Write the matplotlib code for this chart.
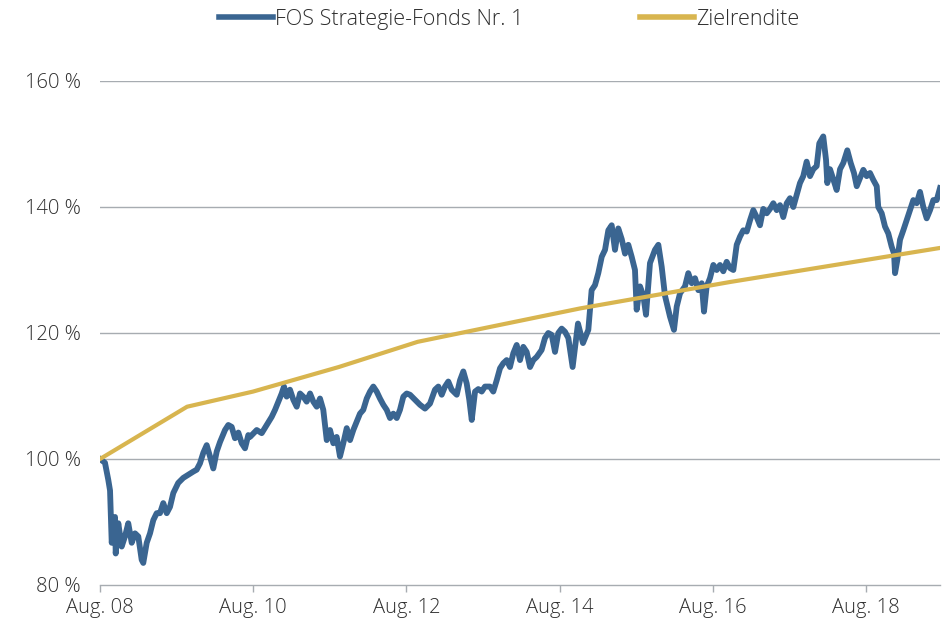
import matplotlib
matplotlib.use("Agg")
import matplotlib.pyplot as plt

# ---------------- data ----------------
fund_t = [2008.583, 2008.648, 2008.691, 2008.714, 2008.736, 2008.779, 2008.788, 2008.822, 2008.866, 2008.909,
          2008.952, 2008.997, 2009.040, 2009.083, 2009.127, 2009.148, 2009.193, 2009.236, 2009.279, 2009.323,
          2009.366, 2009.409, 2009.454, 2009.497, 2009.540, 2009.604, 2009.670, 2009.736, 2009.801, 2009.845,
          2009.888, 2009.932, 2009.976, 2010.019, 2010.062, 2010.107, 2010.150, 2010.215, 2010.258, 2010.302,
          2010.345, 2010.389, 2010.433, 2010.476, 2010.519, 2010.541, 2010.629, 2010.694, 2010.759, 2010.825,
          2010.868, 2010.911, 2010.955, 2010.985, 2011.020, 2011.063, 2011.107, 2011.151, 2011.194, 2011.237,
          2011.281, 2011.325, 2011.368, 2011.412, 2011.455, 2011.498, 2011.543, 2011.586, 2011.629, 2011.673,
          2011.716, 2011.759, 2011.804, 2011.847, 2011.890, 2011.934, 2011.977, 2012.020, 2012.065, 2012.108,
          2012.151, 2012.195, 2012.238, 2012.282, 2012.326, 2012.369, 2012.412, 2012.457, 2012.499, 2012.543,
          2012.587, 2012.630, 2012.695, 2012.761, 2012.826, 2012.891, 2012.956, 2013.000, 2013.044, 2013.087,
          2013.130, 2013.174, 2013.240, 2013.283, 2013.326, 2013.370, 2013.404, 2013.436, 2013.479, 2013.522,
          2013.566, 2013.609, 2013.674, 2013.717, 2013.762, 2013.805, 2013.848, 2013.892, 2013.935, 2013.979,
          2014.023, 2014.066, 2014.109, 2014.153, 2014.197, 2014.240, 2014.284, 2014.348, 2014.392, 2014.435,
          2014.480, 2014.523, 2014.566, 2014.610, 2014.653, 2014.697, 2014.753, 2014.823, 2014.888, 2014.958,
          2015.001, 2015.045, 2015.088, 2015.133, 2015.176, 2015.219, 2015.263, 2015.306, 2015.349, 2015.394,
          2015.437, 2015.480, 2015.524, 2015.567, 2015.589, 2015.633, 2015.676, 2015.711, 2015.763, 2015.828,
          2015.872, 2015.916, 2015.959, 2016.024, 2016.076, 2016.112, 2016.155, 2016.220, 2016.263, 2016.308,
          2016.351, 2016.394, 2016.438, 2016.468, 2016.503, 2016.546, 2016.590, 2016.634, 2016.677, 2016.720,
          2016.764, 2016.808, 2016.851, 2016.895, 2016.938, 2016.981, 2017.026, 2017.069, 2017.112, 2017.156,
          2017.199, 2017.242, 2017.287, 2017.330, 2017.373, 2017.417, 2017.460, 2017.503, 2017.548, 2017.591,
          2017.634, 2017.677, 2017.721, 2017.764, 2017.808, 2017.852, 2017.895, 2017.939, 2017.973, 2018.025,
          2018.061, 2018.078, 2018.113, 2018.156, 2018.200, 2018.244, 2018.287, 2018.339, 2018.383, 2018.426,
          2018.462, 2018.505, 2018.548, 2018.592, 2018.635, 2018.678, 2018.723, 2018.743, 2018.788, 2018.831,
          2018.874, 2018.918, 2018.949, 2018.962, 2018.992, 2019.027, 2019.070, 2019.114, 2019.157, 2019.201,
          2019.245, 2019.288, 2019.331, 2019.375, 2019.419, 2019.462, 2019.506, 2019.549]

fund_v = [100.0, 99.4, 96.7, 95.0, 86.7, 90.8, 85.0, 89.8, 86.1, 87.7,
          89.8, 86.7, 88.2, 87.7, 84.0, 83.5, 86.7, 88.2, 90.3, 91.4,
          91.4, 93.0, 91.4, 92.4, 94.6, 96.2, 97.0, 97.5, 98.0, 98.3,
          99.3, 101.0, 102.2, 100.4, 98.5, 101.2, 102.7, 104.6, 105.4, 105.1,
          103.3, 104.2, 102.5, 101.7, 103.8, 103.5, 104.6, 104.1, 105.4, 106.7,
          107.8, 109.1, 110.4, 111.5, 109.9, 111.0, 109.4, 108.3, 110.4, 109.9,
          109.1, 110.4, 109.1, 108.3, 109.6, 107.8, 103.0, 104.6, 102.5, 103.5,
          100.4, 102.5, 104.9, 103.0, 104.6, 105.9, 107.2, 107.8, 109.6, 110.7,
          111.5, 110.7, 109.6, 108.6, 107.8, 106.5, 107.2, 106.5, 107.8, 109.9,
          110.4, 110.2, 109.4, 108.6, 108.0, 108.8, 111.0, 111.5, 110.2, 111.5,
          112.3, 111.0, 110.2, 112.5, 113.9, 112.0, 109.4, 106.2, 110.7, 111.1,
          110.7, 111.5, 111.5, 110.7, 112.5, 114.4, 115.2, 115.7, 114.6, 116.8,
          118.1, 115.7, 117.8, 117.0, 114.6, 115.7, 116.2, 117.3, 119.2, 120.0,
          119.7, 117.0, 120.0, 120.7, 120.2, 119.2, 114.6, 121.5, 118.4, 120.5,
          126.8, 127.6, 129.5, 132.1, 133.2, 136.3, 137.1, 133.2, 136.6, 134.9,
          132.6, 134.0, 132.1, 130.0, 123.7, 127.4, 125.9, 122.9, 131.1, 133.2,
          134.0, 130.5, 125.9, 122.6, 120.5, 124.2, 126.3, 127.4, 129.5, 127.9,
          128.7, 126.8, 127.9, 123.4, 127.4, 128.7, 130.8, 130.0, 130.8, 129.8,
          131.3, 130.3, 130.0, 134.0, 135.3, 136.3, 136.1, 137.9, 139.5, 138.4,
          137.1, 139.7, 139.0, 139.7, 140.6, 139.5, 140.3, 138.4, 140.6, 141.4,
          140.0, 141.9, 143.8, 144.9, 147.2, 144.9, 146.0, 146.5, 150.1, 151.2,
          147.5, 143.8, 146.0, 144.4, 142.7, 146.0, 147.0, 149.0, 147.0, 145.4,
          143.3, 144.6, 145.9, 144.9, 145.4, 144.3, 143.3, 140.0, 139.0, 136.9,
          135.8, 133.7, 132.6, 129.5, 131.6, 134.8, 136.3, 137.9, 139.5, 141.1,
          140.6, 142.4, 140.0, 138.2, 139.5, 141.1, 141.1, 143.0]

target_t = [2008.583, 2009.720, 2010.580, 2011.700, 2012.730, 2014.850, 2016.810, 2019.549]
target_v = [100.0, 108.3, 110.7, 114.6, 118.6, 123.9, 128.1, 133.5]

tick_pos = [2008.583, 2010.583, 2012.583, 2014.583, 2016.583, 2018.583]
tick_labels = ["Aug. 08", "Aug. 10", "Aug. 12", "Aug. 14", "Aug. 16", "Aug. 18"]
y_ticks = [80, 100, 120, 140, 160]
y_labels = ["80 %", "100 %", "120 %", "140 %", "160 %"]

series_names = ["FOS Strategie-Fonds Nr. 1", "Zielrendite"]

# ---------------- style ----------------
plt.rcParams["font.family"] = ["Open Sans", "DejaVu Sans"]
plt.rcParams["font.weight"] = "light"

BLUE = "#3a6591"
GOLD = "#d8b54f"
GRID = "#a7acb1"
TXT = "#2e2e2e"
FS = 14.5
FS_LEG = 15.5

fig = plt.figure(figsize=(9.43, 6.22), dpi=100)
ax = fig.add_axes([100 / 943, 1 - 585 / 622, 840 / 943, (585 - 81) / 622])

ax.plot(fund_t, fund_v, color=BLUE, lw=4.2, solid_joinstyle="round", label=series_names[0], zorder=3)
ax.plot(target_t, target_v, color=GOLD, lw=3.0, label=series_names[1], zorder=4)

ax.set_xlim(2008.583, 2019.549)
ax.set_ylim(80, 160)

ax.set_yticks(y_ticks)
ax.set_yticklabels(y_labels)
ax.set_xticks(tick_pos)
ax.set_xticklabels(tick_labels)

for v in y_ticks[1:]:
    ax.axhline(v, color=GRID, lw=1.0, zorder=1)

for s in ["top", "right", "left"]:
    ax.spines[s].set_visible(False)
ax.spines["bottom"].set_color(GRID)
ax.spines["bottom"].set_linewidth(1.0)

ax.tick_params(axis="y", length=0, pad=14, labelsize=FS, labelcolor=TXT)
ax.tick_params(axis="x", length=5, width=1, color=GRID, pad=4, labelsize=FS, labelcolor=TXT, direction="out")

leg = fig.legend(loc="center", bbox_to_anchor=(0.54, 0.969), ncol=2, frameon=False,
                 fontsize=FS_LEG, handlelength=2.5, handletextpad=0.12, columnspacing=5.4,
                 labelcolor=TXT)
for h in leg.get_lines():
    h.set_linewidth(4)

fig.savefig("out.png", dpi=100)
